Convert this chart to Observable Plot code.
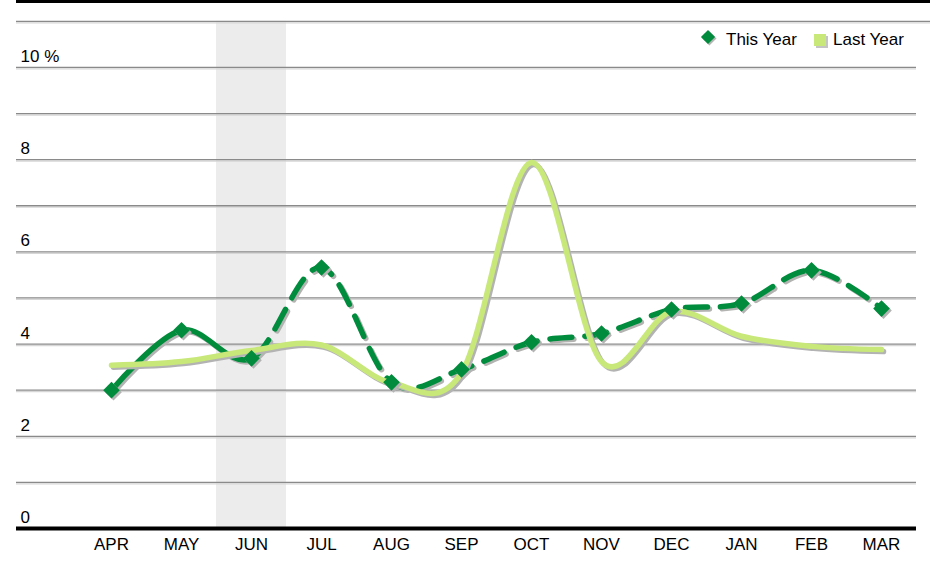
<!DOCTYPE html>
<html>
<head>
<meta charset="utf-8">
<script src="https://cdn.jsdelivr.net/npm/d3@7"></script>
<script src="https://cdn.jsdelivr.net/npm/@observablehq/plot@0.6"></script>
<style>
  html, body { margin: 0; padding: 0; background: #fff; }
  #wrap { position: relative; width: 930px; height: 563px; font-family: "Liberation Sans", Arial, Helvetica, sans-serif; }
  .leg { position: absolute; font-size: 17px; color: #000; line-height: 1; white-space: nowrap; }
  .diam { position: absolute; width: 10px; height: 10px; background: #008c3c; transform: rotate(45deg); box-shadow: 2px 0px 0 #b5b5b5; }
  .sq { position: absolute; width: 12px; height: 12px; background: #c8e87a; box-shadow: 2px 2px 0 #c4c4c4; }
</style>
</head>
<body>
<div id="wrap">
  <div class="diam" style="left:703px; top:32px;"></div>
  <div class="leg" style="left:726px; top:31px;">This Year</div>
  <div class="sq" style="left:814px; top:34px;"></div>
  <div class="leg" style="left:833px; top:31px;">Last Year</div>
</div>
<script>
const months = ["APR","MAY","JUN","JUL","AUG","SEP","OCT","NOV","DEC","JAN","FEB","MAR"];
const thisYear = [3.0, 4.30, 3.69, 5.66, 3.17, 3.45, 4.04, 4.23, 4.75, 4.88, 5.60, 4.77];
const lastYear = [3.54, 3.62, 3.86, 3.98, 3.16, 3.38, 7.94, 3.62, 4.70, 4.17, 3.95, 3.88];
const yTicks = [0, 2, 4, 6, 8, 10];
const yTickLabels = ["0", "2", "4", "6", "8", "10 %"];
const gridValues = [1, 2, 3, 4, 5, 6, 7, 8, 9, 10];
const highlightMonth = ["JUN"];
const dashStart = "JUN";

const data = months.map((m, i) => ({month: m, thisYear: thisYear[i], lastYear: lastYear[i]}));
const yTickData = yTicks.map((v, i) => ({v, label: yTickLabels[i]}));

const dark = "#008c3c";
const darkD = "#008c3d";   // same colour, used to tag the dashed variant
const darkS = "#008c3b";   // tag: solid part
const light = "#c8e87a";
const shadow = "#b3b3b3";
const shadowS = "#b3b3b4"; // tag: solid-part shadow
const shadowD = "#b3b3b2"; // tag: dashed-part shadow
const lw = 5.5;

const plot = Plot.plot({
  width: 930,
  height: 563,
  marginLeft: 16,
  marginRight: 14,
  marginTop: 1,
  marginBottom: 35,
  x: {type: "band", domain: months, range: [76, 916], padding: 0, axis: null},
  y: {domain: [0, 11.43], axis: null},
  style: {fontFamily: "'Liberation Sans', Arial, Helvetica, sans-serif", fontSize: "17px", background: "transparent", color: "#000", overflow: "visible"},
  marks: [
    Plot.barY(highlightMonth, {x: d => d, y1: 0, y2: 11, fill: "#ececec"}),
    Plot.ruleY(gridValues, {stroke: "#d6d6d6", strokeWidth: 1.2, dy: 1.5}),
    Plot.ruleY(gridValues, {stroke: "#8a8a8a", strokeWidth: 1.3}),
    Plot.ruleY([11], {stroke: "#d6d6d6", strokeWidth: 1.2, dy: 1.5, insetRight: -14}),
    Plot.ruleY([11], {stroke: "#8a8a8a", strokeWidth: 1.3, insetRight: -14}),
    Plot.ruleY([11.43], {stroke: "#000", strokeWidth: 3, insetRight: -14}),
    Plot.ruleY([0], {stroke: "#000", strokeWidth: 4}),
    Plot.text(yTickData, {y: "v", text: "label", frameAnchor: "left", textAnchor: "start", dx: 4, dy: -11, fontSize: 17}),
    Plot.text(months, {x: d => d, frameAnchor: "bottom", dy: 21, fontSize: 17}),
    // This Year: shadow + line (solid / dashed variants, clipped later)
    Plot.line(data, {x: "month", y: "thisYear", curve: "cardinal", stroke: shadowS, strokeWidth: lw, dx: 2, dy: 2}),
    Plot.line(data, {x: "month", y: "thisYear", curve: "cardinal", stroke: shadowD, strokeWidth: lw, dx: 2, dy: 2, strokeDasharray: "22 13"}),
    Plot.line(data, {x: "month", y: "thisYear", curve: "cardinal", stroke: darkS, strokeWidth: lw}),
    Plot.line(data, {x: "month", y: "thisYear", curve: "cardinal", stroke: darkD, strokeWidth: lw, strokeDasharray: "22 13"}),
    // Last Year
    Plot.line(data, {x: "month", y: "lastYear", curve: "cardinal", stroke: shadow, strokeWidth: lw, dx: 2, dy: 2}),
    Plot.line(data, {x: "month", y: "lastYear", curve: "cardinal", stroke: light, strokeWidth: lw}),
    // markers
    Plot.dot(data, {x: "month", y: "thisYear", symbol: "diamond2", r: 7.5, fill: shadow, dx: 2, dy: 2}),
    Plot.dot(data, {x: "month", y: "thisYear", symbol: "diamond2", r: 7.5, fill: dark})
  ]
});

document.getElementById("wrap").prepend(plot);
plot.style.position = "absolute";
plot.style.left = "0px";
plot.style.top = "0px";

// clip solid part to the left of dashStart and dashed part to the right
const sx = plot.scale("x");
const band = d3.scaleBand().domain(sx.domain).range(sx.range).padding(0);
const xJ = band(dashStart) + band.bandwidth() / 2;
const ns = "http://www.w3.org/2000/svg";
const defs = document.createElementNS(ns, "defs");
function addClip(id, x, w) {
  const cp = document.createElementNS(ns, "clipPath");
  cp.setAttribute("id", id);
  cp.setAttribute("clipPathUnits", "userSpaceOnUse");
  const r = document.createElementNS(ns, "rect");
  r.setAttribute("x", x); r.setAttribute("y", -50);
  r.setAttribute("width", w); r.setAttribute("height", 700);
  cp.appendChild(r);
  defs.appendChild(cp);
}
addClip("clipL", -50, xJ + 50);
addClip("clipR", xJ, 1200);
plot.insertBefore(defs, plot.firstChild);
function tag(col, clip) {
  plot.querySelectorAll(`g[stroke="${col}"]`).forEach(g => {
    const w = document.createElementNS(ns, "g");
    w.setAttribute("clip-path", `url(#${clip})`);
    g.parentNode.insertBefore(w, g);
    w.appendChild(g);
  });
}
tag(shadowS, "clipL"); tag(darkS, "clipL");
tag(shadowD, "clipR"); tag(darkD, "clipR");
</script>
</body>
</html>
